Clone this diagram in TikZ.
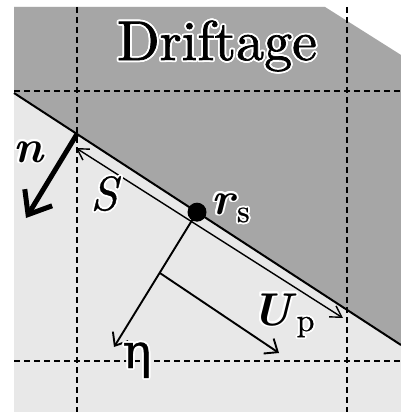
\documentclass[tikz,border=0pt]{standalone}
\usepackage{fontspec}
\newfontfamily\greekfont[FakeBold=0.6]{DejaVu Serif}
\newfontfamily\driftfont[FakeBold=1.2]{lmroman10-regular.otf}
\newfontfamily\subrm[FakeBold=0.8]{lmroman10-regular.otf}
\newfontfamily\slantrm[FakeBold=0.8]{lmroman10-italic.otf}
\usepackage{contour}
\contourlength{1.8pt}
\contournumber{16}
\usetikzlibrary{calc}
\usetikzlibrary{arrows.meta}

\definecolor{driftgray}{gray}{0.65}
\definecolor{bedgray}{gray}{0.91}

\newcommand{\labelfont}{\fontsize{46}{46}\selectfont}
\newcommand{\subfont}{\subrm\fontsize{32}{32}\selectfont}

\begin{document}
\begin{tikzpicture}[x=1pt, y=-1pt]
    \tikzset{
        gridline/.style={line width=1.4pt, dash pattern=on 6pt off 4pt},
        thinarrow/.style={line width=1.9pt, -{Straight Barb[length=11pt, width=18pt]}},
        every node/.style={inner sep=0pt}
    }

    \useasboundingbox (0,0) rectangle (401,412);

    % Frame corners
    \coordinate (TL) at (14,7);
    \coordinate (TC) at (325,7);
    \coordinate (TR) at (401,55);
    \coordinate (BR) at (401,412);
    \coordinate (BL) at (14,412);

    % Interface (bed surface)
    \coordinate (IL) at (14,93);
    \coordinate (IR) at (401,345);

    % Regions
    \fill [bedgray] (TL) -- (TC) -- (TR) -- (BR) -- (BL) -- cycle;
    \fill [driftgray] (TL) -- (TC) -- (TR) -- (IR) -- (IL) -- cycle;

    % Grid
    \draw [gridline] (77,7) -- (77,412);
    \draw [gridline] (347,7) -- (347,412);
    \draw [gridline] (14,91) -- (401,91);
    \draw [gridline] (14,361) -- (401,361);

    % Interface line
    \draw [line width=2pt] (IL) -- (IR);

    % Points on the interface
    \coordinate (rs) at ($(IL)!0.4729!(IR)$);
    \coordinate (N0) at ($(IL)!0.1628!(IR)$);
    \coordinate (N1) at (26,218);

    % Local axes
    \coordinate (eta) at (114,347);
    \coordinate (F) at ($(rs)!0.45!(eta)$);
    \coordinate (Up) at (279,353);
    \coordinate (S0) at (76,148);
    \coordinate (S1) at (343,318);

    % Arrows
    \draw [thinarrow] (rs) -- (eta);
    \draw [thinarrow] (F) -- (Up);
    \draw [line width=1.4pt, {Straight Barb[length=11pt, width=13pt]}-{Straight Barb[length=11pt, width=13pt]}] (S0) -- (S1);
    \draw [line width=5pt, -{Straight Barb[length=20pt, width=32pt]}] (N0) -- (N1);

    \fill (rs) circle [radius=9.5pt];

    % Labels
    \node (drift) [anchor=base] at (217,60) {\driftfont\fontsize{56}{56}\selectfont\contour{white}{Driftage}};
    \node (nlab) [anchor=base] at (29,162) {\labelfont\contour{white}{\textbf{\textit{n}}}};
    \node (slab) [anchor=base] at (104,210) {\slantrm\fontsize{48}{48}\selectfont\contour{white}{S}};
    \node (rlab) [anchor=base west] at (211,214) {\labelfont\contour{white}{\textbf{\textit{r}}}\raisebox{-8pt}{\subfont\contour{white}{s}}};
    \node (ulab) [anchor=base west] at (251,325) {\labelfont\contour{white}{\textbf{\textit{U}}}\raisebox{-6pt}{\subfont\contour{white}{p}}};
    \node (etalab) [anchor=base] at (137,368) {\greekfont\fontsize{48}{48}\selectfont\contour{white}{η}};
\end{tikzpicture}
\end{document}
